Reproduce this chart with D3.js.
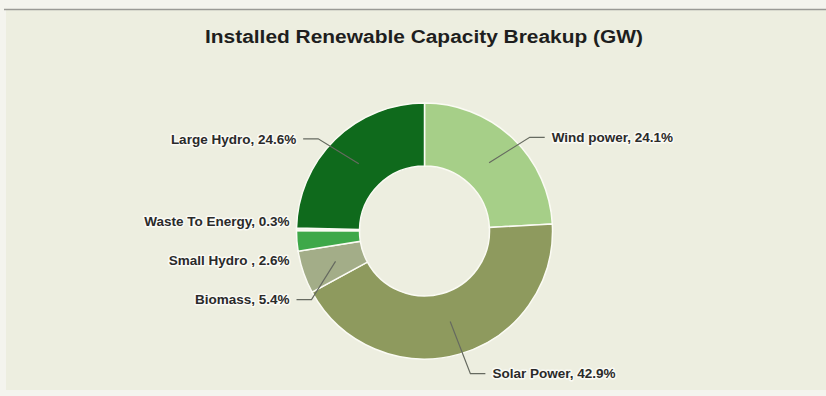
<!DOCTYPE html>
<html>
<head>
<meta charset="utf-8">
<script src="https://cdn.jsdelivr.net/npm/d3@7"></script>
<style>
  html, body { margin: 0; padding: 0; background: #f4f4ee; }
  svg { display: block; font-family: "Liberation Sans", Arial, sans-serif; }
</style>
</head>
<body>
<svg id="chart" width="826" height="396"></svg>
<script>
// chart data
var title = "Installed Renewable Capacity Breakup (GW)";
var categories = ["Wind power", "Solar Power", "Biomass", "Small Hydro ", "Waste To Energy", "Large Hydro"];
var shares = [24.1, 42.9, 5.4, 2.6, 0.3, 24.6];
var sliceColors = ["#a6cf88", "#8e9a5e", "#a3ad88", "#3ea849", "#f3f5ea", "#0f6a1c"];

var svg = d3.select("#chart"),
    width = +svg.attr("width"),
    height = +svg.attr("height");

// scanned page look: cream panel with a grey rule on top
svg.append("rect").attr("width", width).attr("height", height).attr("fill", "#f4f4ee");
svg.append("rect")
  .attr("x", 6).attr("y", 10)
  .attr("width", width - 6).attr("height", 380)
  .attr("fill", "#edeee0");
svg.append("line")
  .attr("x1", 4).attr("x2", width)
  .attr("y1", 9.5).attr("y2", 9.5)
  .attr("stroke", "#9a9a96").attr("stroke-width", 1.5);

svg.append("text")
  .attr("x", 424).attr("y", 43)
  .attr("text-anchor", "middle")
  .attr("font-size", 18)
  .attr("font-weight", "bold")
  .attr("textLength", 438)
  .attr("lengthAdjust", "spacingAndGlyphs")
  .attr("fill", "#1e1e1e")
  .text(title);

var cx = 424.5, cy = 231, rOuter = 128, rInner = 65;

var color = d3.scaleOrdinal().domain(categories).range(sliceColors);

var pie = d3.pie().sort(null).value(function(d) { return d.value; });
var arc = d3.arc().innerRadius(rInner).outerRadius(rOuter);
var midArc = d3.arc().innerRadius(94).outerRadius(94);

var data = categories.map(function(c, i) { return {name: c, value: shares[i]}; });
var arcs = pie(data);

var g = svg.append("g").attr("transform", "translate(" + cx + "," + cy + ")");

g.selectAll(".slice")
  .data(arcs)
  .enter().append("path")
  .attr("class", "slice")
  .attr("d", arc)
  .attr("fill", function(d) { return color(d.data.name); })
  .attr("stroke", "#fbfbf4")
  .attr("stroke-width", 1.5);

// label layout: natural y from the slice angle, then spread overlapping labels
var boxH = 39;
arcs.forEach(function(d) {
  var a = (d.startAngle + d.endAngle) / 2;
  d.mid = a;
  d.right = Math.sin(a) > 0;
  d.target = -140 * Math.cos(a) + 8;
});

function distribute(list) {
  list.sort(function(a, b) { return a.target - b.target; });
  var boxes = list.map(function(d) { return {items: [d], targets: [d.target], size: boxH}; });
  var overlap = true;
  while (overlap) {
    overlap = false;
    for (var i = boxes.length - 1; i >= 0; i--) {
      var b = boxes[i];
      var t = (d3.min(b.targets) + d3.max(b.targets)) / 2;
      b.pos = t - b.size / 2;
      var p = boxes[i - 1];
      if (p) {
        var pt = (d3.min(p.targets) + d3.max(p.targets)) / 2;
        p.pos = pt - p.size / 2;
        if (p.pos + p.size > b.pos) {
          p.size += b.size;
          p.items = p.items.concat(b.items);
          p.targets = p.targets.concat(b.targets);
          boxes.splice(i, 1);
          overlap = true;
        }
      }
    }
  }
  boxes.forEach(function(b) {
    var t = (d3.min(b.targets) + d3.max(b.targets)) / 2;
    var top = t - b.size / 2;
    b.items.forEach(function(d, k) { d.ly = top + boxH * k + boxH / 2; });
  });
}
distribute(arcs.filter(function(d) { return d.right; }));
distribute(arcs.filter(function(d) { return !d.right; }));

arcs.forEach(function(d) {
  var off = Math.abs(d.ly) < 158 ? Math.sqrt(158 * 158 - d.ly * d.ly) : 0;
  off = Math.min(off, 135);
  var s = d.right ? 1 : -1;
  d.lx = s * off;
  var c = midArc.centroid(d);
  d.line = [c, [d.lx - s * 22, d.ly], [d.lx - s * 7, d.ly]];
});

g.selectAll(".connector")
  .data(arcs.filter(function(d) { return d.value > 3; }))
  .enter().append("polyline")
  .attr("class", "connector")
  .attr("points", function(d) { return d.line.map(function(p) { return p.join(","); }).join(" "); })
  .attr("fill", "none")
  .attr("stroke", "#666a60")
  .attr("stroke-width", 1.2);

g.selectAll(".label")
  .data(arcs)
  .enter().append("text")
  .attr("class", "label")
  .attr("x", function(d) { return d.lx; })
  .attr("y", function(d) { return d.ly; })
  .attr("dy", "0.35em")
  .attr("text-anchor", function(d) { return d.right ? "start" : "end"; })
  .attr("font-size", 13.5)
  .attr("font-weight", "bold")
  .attr("fill", "#2a2a2a")
  .attr("stroke", "#fafaf4")
  .attr("stroke-width", 3)
  .attr("stroke-linejoin", "round")
  .attr("paint-order", "stroke")
  .text(function(d) { return d.data.name + ", " + d.data.value + "%"; });
</script>
</body>
</html>
